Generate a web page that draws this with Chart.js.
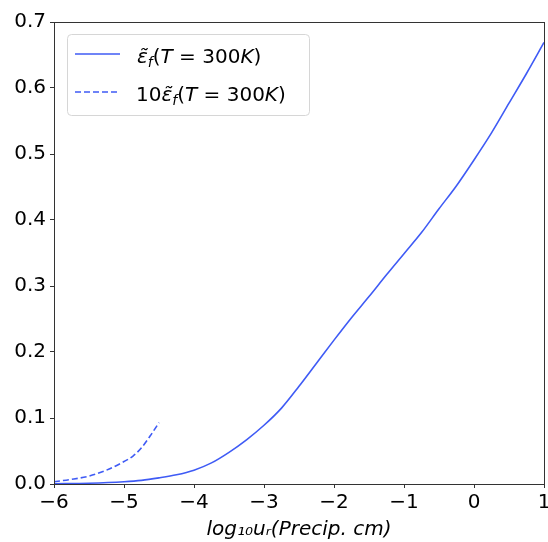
<!DOCTYPE html>
<html>
<head>
<meta charset="utf-8">
<script src="https://cdn.jsdelivr.net/npm/chart.js@4.4.0/dist/chart.umd.min.js"></script>
<style>
  html, body { margin: 0; padding: 0; background: #fff; }
  #wrap { width: 548px; height: 542px; }
</style>
</head>
<body>
<div id="wrap"><canvas id="c" width="548" height="542"></canvas></div>
<script>
// valores
const xSolid = [-6, -5.5, -5, -4.75, -4.5, -4.25, -4, -3.75, -3.5, -3.25, -3, -2.75, -2.5, -2.25, -2, -1.75, -1.5, -1.25, -1, -0.75, -0.5, -0.25, 0, 0.25, 0.5, 0.75, 1];
const ySolid = [0.0004, 0.0012, 0.0034, 0.0055, 0.0093, 0.014, 0.021, 0.032, 0.048, 0.067, 0.089, 0.115, 0.148, 0.183, 0.218, 0.252, 0.284, 0.317, 0.349, 0.381, 0.417, 0.452, 0.491, 0.532, 0.577, 0.622, 0.669];
const xDash = [-6, -5.75, -5.5, -5.25, -5, -4.875, -4.75, -4.625, -4.5];
const yDash = [0.0035, 0.007, 0.012, 0.021, 0.034, 0.042, 0.055, 0.073, 0.093];
const xTicks = [-6, -5, -4, -3, -2, -1, 0, 1];
const yTicks = [0, 0.1, 0.2, 0.3, 0.4, 0.5, 0.6, 0.7];

const azul = '#3f5bf5';
const FONT = 'DejaVu Sans';

const toPts = (xs, ys) => xs.map((x, i) => ({ x, y: ys[i] }));

// marco + leyenda estilo matplotlib
const marco = {
  id: 'marco',
  afterDraw(chart) {
    const { ctx, chartArea: a } = chart;
    ctx.save();
    ctx.strokeStyle = '#333';
    ctx.lineWidth = 1;
    ctx.strokeRect(Math.round(a.left) + 0.5, Math.round(a.top) + 0.5, Math.round(a.right - a.left), Math.round(a.bottom - a.top));

    // caja leyenda
    const bx = 67, by = 34, bw = 242, bh = 81, r = 4;
    ctx.fillStyle = 'rgba(255,255,255,0.8)';
    ctx.strokeStyle = '#d6d6d6';
    ctx.beginPath();
    ctx.roundRect(bx + 0.5, by + 0.5, bw, bh, r);
    ctx.fill();
    ctx.stroke();

    const filas = [
      { y: 54, dash: [], pre: '' },
      { y: 92, dash: [6, 3], pre: '10' }
    ];
    filas.forEach(f => {
      ctx.strokeStyle = azul;
      ctx.lineWidth = 1.5;
      ctx.setLineDash(f.dash);
      ctx.beginPath();
      ctx.moveTo(75, f.y);
      ctx.lineTo(120, f.y);
      ctx.stroke();
      ctx.setLineDash([]);

      ctx.fillStyle = '#000';
      ctx.textBaseline = 'alphabetic';
      let x = f.pre ? 136 : 137;
      const base = f.y + 9;
      const parts = [
        [f.pre, '20px'],
        ['ε\u0303', 'italic 20px'],
        ['f', 'italic 14px', 4],
        ['(', '20px'],
        ['T', 'italic 20px'],
        [' = 300', '20px'],
        ['K', 'italic 20px'],
        [')', '20px']
      ];
      parts.forEach(([t, fnt, dy]) => {
        if (!t) return;
        ctx.font = fnt + ' "' + FONT + '"';
        ctx.fillText(t, x, base + (dy || 0));
        x += ctx.measureText(t).width;
      });
    });
    ctx.restore();
  }
};

new Chart(document.getElementById('c'), {
  type: 'line',
  data: {
    datasets: [
      { data: toPts(xSolid, ySolid), borderColor: azul, borderWidth: 1.6, pointRadius: 0, cubicInterpolationMode: 'monotone', fill: false },
      { data: toPts(xDash, yDash), borderColor: azul, borderWidth: 1.6, borderDash: [6, 3], pointRadius: 0, cubicInterpolationMode: 'monotone', fill: false }
    ]
  },
  options: {
    responsive: false,
    animation: false,
    events: [],
    layout: { padding: { top: 22, right: 4, left: 0, bottom: 0 } },
    plugins: { legend: { display: false }, tooltip: { enabled: false } },
    scales: {
      x: {
        type: 'linear', min: -6, max: 1,
        afterBuildTicks: s => { s.ticks = xTicks.map(v => ({ value: v })); },
        afterFit: s => { s.height = 58; s.paddingLeft = 0; s.paddingRight = 0; },
        grid: { drawOnChartArea: false, tickLength: 4, tickColor: '#333', color: '#333' },
        border: { display: false },
        ticks: {
          color: '#000', padding: 3, maxRotation: 0,
          font: { family: FONT, size: 20 },
          callback: v => String(v).replace('-', '\u2212')
        },
        title: {
          display: true,
          text: 'log\u2081\u2080u\u1d63(Precip. cm)',
          color: '#000',
          padding: { top: 0, bottom: 0 },
          font: { family: FONT, size: 20, style: 'italic' }
        }
      },
      y: {
        min: 0, max: 0.7,
        afterBuildTicks: s => { s.ticks = yTicks.map(v => ({ value: v })); },
        afterFit: s => { s.width = 54; s.paddingTop = 0; s.paddingBottom = 0; },
        grid: { drawOnChartArea: false, tickLength: 4, tickColor: '#333', color: '#333' },
        border: { display: false },
        ticks: {
          color: '#000', padding: 4,
          font: { family: FONT, size: 20 },
          callback: v => v.toFixed(1)
        }
      }
    }
  },
  plugins: [marco]
});
</script>
</body>
</html>
